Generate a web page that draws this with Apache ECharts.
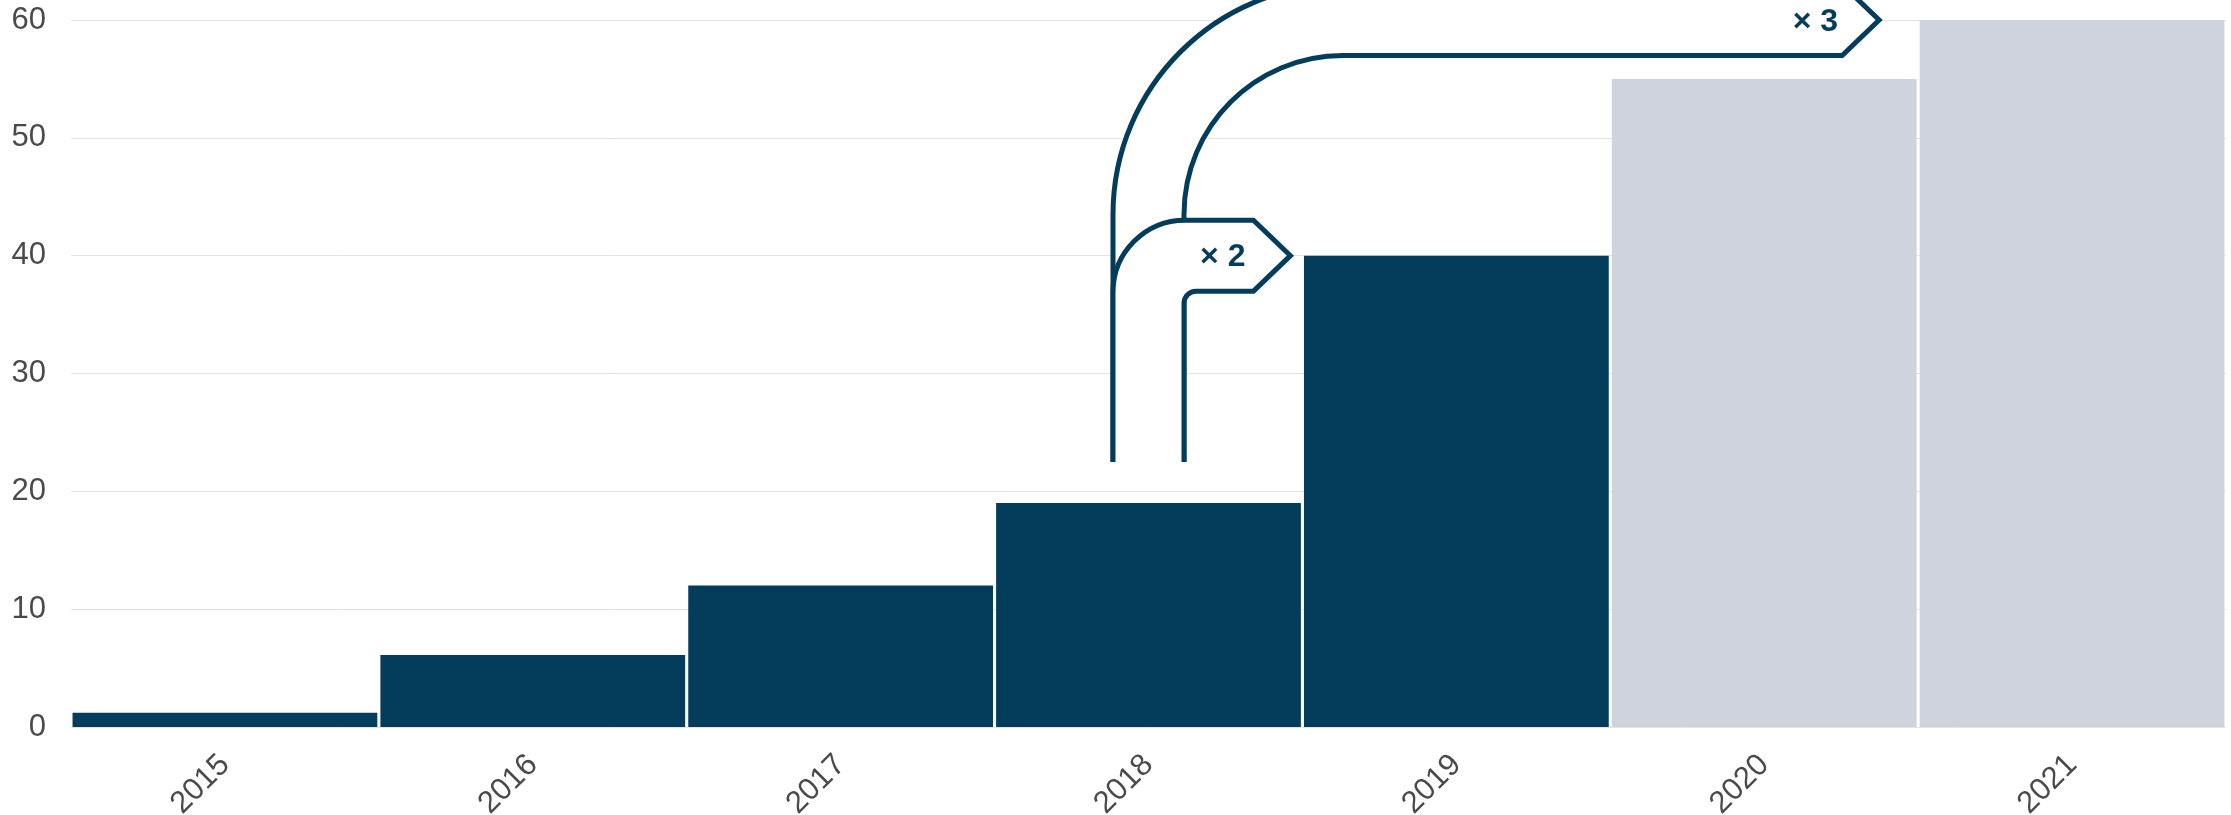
<!DOCTYPE html>
<html>
<head>
<meta charset="utf-8">
<script src="https://cdn.jsdelivr.net/npm/echarts@6/dist/echarts.min.js"></script>
<style>
  html, body { margin: 0; padding: 0; background: #ffffff; }
  #chart { width: 2231px; height: 815px; }
</style>
</head>
<body>
<div id="chart"></div>
<script>
// ---- data ----
const categories = ['2015', '2016', '2017', '2018', '2019', '2020', '2021'];
const values = [1.2, 6.1, 12, 19, 40, 55, 60];
const isProjection = [false, false, false, false, false, true, true];
const yTicks = [0, 10, 20, 30, 40, 50, 60];
// growth annotations (drawn in order: ×3 first, ×2 on top)
const arrowLabels = ['× 3', '× 2'];
const arrowFromCategory = ['2018', '2018'];
const arrowFromValue = [22.5, 22.5];
const arrowToCategory = ['2021', '2019'];
const arrowToValue = [60, 40];

// ---- styles ----
const NAVY = '#043c5c';
const LIGHT = '#ced3de';
const TEXT = '#4a4a4a';
const FONT = '"Liberation Sans", Arial, sans-serif';
const tipGap = [39, 12];        // px left of the target category boundary
const innerRadius = [159, 12];
const outerRadius = [230, 72];
const labelGap = [4, 8];
const BAND = 71, HEAD = 37, K = 0.5523;

const chart = echarts.init(document.getElementById('chart'), null, { renderer: 'canvas' });

const arrowData = arrowLabels.map((l, i) => [
  categories.indexOf(arrowFromCategory[i]), arrowFromValue[i],
  categories.indexOf(arrowToCategory[i]), arrowToValue[i]
]);

function renderArrow(params, api) {
  const i = params.dataIndex;
  const catW = api.size([1, 0])[0];
  const s = api.coord([api.value(0), api.value(1)]);
  const t = api.coord([api.value(2), api.value(3)]);
  const xc = s[0], yStart = s[1];
  const half = BAND / 2;
  const xL = xc - half, xR = xc + half;
  const yP = t[1];
  const top = yP - half, bottom = yP + half;
  const tipX = t[0] - catW / 2 - tipGap[i];
  const rin = innerRadius[i], rout = outerRadius[i];
  const f = v => v.toFixed(2);
  let d = '';
  d += 'M' + f(xL) + ' ' + f(yStart);
  d += ' L' + f(xL) + ' ' + f(top + rout);
  d += ' C' + f(xL) + ' ' + f(top + rout - K * rout) + ' ' + f(xL + rout - K * rout) + ' ' + f(top) + ' ' + f(xL + rout) + ' ' + f(top);
  d += ' L' + f(tipX - HEAD) + ' ' + f(top);
  d += ' L' + f(tipX) + ' ' + f(yP);
  d += ' L' + f(tipX - HEAD) + ' ' + f(bottom);
  d += ' L' + f(xR + rin) + ' ' + f(bottom);
  d += ' C' + f(xR + rin - K * rin) + ' ' + f(bottom) + ' ' + f(xR) + ' ' + f(bottom + rin - K * rin) + ' ' + f(xR) + ' ' + f(bottom + rin);
  d += ' L' + f(xR) + ' ' + f(yStart);
  return {
    type: 'group',
    children: [
      { type: 'path', shape: { pathData: d + ' Z' }, style: { fill: '#ffffff', stroke: null } },
      { type: 'path', shape: { pathData: d }, style: { fill: null, stroke: NAVY, lineWidth: 5, lineJoin: 'miter' } },
      {
        type: 'text',
        style: {
          x: tipX - HEAD - labelGap[i], y: yP + 2,
          text: arrowLabels[i],
          align: 'right', verticalAlign: 'middle',
          fontSize: 32, fontWeight: 'bold', fill: NAVY, fontFamily: FONT
        }
      }
    ]
  };
}

chart.setOption({
  animation: false,
  backgroundColor: '#ffffff',
  grid: { left: 71, right: 5, top: 20, bottom: 88, containLabel: false, outerBoundsMode: 'none' },
  xAxis: {
    type: 'category',
    data: categories,
    axisLine: { show: false },
    axisTick: { show: false },
    axisLabel: { rotate: 45, fontSize: 31, color: TEXT, fontFamily: FONT, margin: 33, interval: 0 }
  },
  yAxis: {
    type: 'value',
    min: yTicks[0], max: yTicks[yTicks.length - 1], interval: 10,
    axisLine: { show: false },
    axisTick: { show: false },
    splitLine: { lineStyle: { color: '#e3e3e3', width: 1 } },
    axisLabel: { fontSize: 31, color: TEXT, fontFamily: FONT, margin: 25 }
  },
  series: [
    {
      type: 'bar',
      barCategoryGap: '1%',
      data: values.map((v, i) => ({ value: v, itemStyle: { color: isProjection[i] ? LIGHT : NAVY } })),
      z: 2
    },
    {
      type: 'custom',
      clip: false,
      z: 5,
      encode: { x: 0, y: 1 },
      data: arrowData,
      renderItem: renderArrow
    }
  ]
});
</script>
</body>
</html>
